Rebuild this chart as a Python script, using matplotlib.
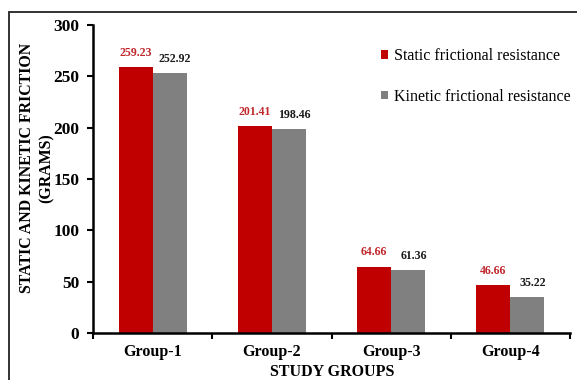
import matplotlib
matplotlib.use("Agg")
import matplotlib.pyplot as plt
import numpy as np
from matplotlib.patches import Rectangle

groups = ["Group-1", "Group-2", "Group-3", "Group-4"]
static_vals = [259.23, 201.41, 64.66, 46.66]
kinetic_vals = [252.92, 198.46, 61.36, 35.22]
series_names = ["Static frictional resistance", "Kinetic frictional resistance"]
y_ticks = [0, 50, 100, 150, 200, 250, 300]

plt.rcParams['font.family'] = ['Liberation Serif', 'DejaVu Serif']

W, H = 577, 380
fig = plt.figure(figsize=(W / 100, H / 100), dpi=100)
ax = fig.add_axes([93 / W, (H - 333) / H, (570 - 93) / W, (333 - 25) / H])

x = np.arange(len(groups))
bw = 0.285
red = '#C00000'
grey = '#808080'
ax.bar(x - bw / 2, static_vals, bw, color=red, label=series_names[0])
ax.bar(x + bw / 2, kinetic_vals, bw, color=grey, label=series_names[1])

for xi, v in zip(x, static_vals):
    ax.annotate(f"{v:.2f}", (xi - bw / 2, v), xytext=(0, 6), textcoords='offset points',
                ha='center', va='bottom', fontsize=8.6, fontweight='bold', color='#C0282D')
for xi, v in zip(x, kinetic_vals):
    ax.annotate(f"{v:.2f}", (xi + bw / 2, v), xytext=(4, 6), textcoords='offset points',
                ha='center', va='bottom', fontsize=8.6, fontweight='bold', color='#1a1a1a')

ax.set_xlim(-0.5, len(groups) - 0.5)
ax.set_ylim(0, 300)
ax.set_yticks(y_ticks)
ax.set_xticks(x)
ax.set_xticklabels(groups)
ax.set_xticks(np.arange(len(groups) + 1) - 0.5, minor=True)
ax.tick_params(axis='x', which='major', length=0, pad=8, labelsize=11.5)
ax.tick_params(axis='x', which='minor', length=4, width=1.5, direction='out')
ax.tick_params(axis='y', length=4, width=1.5, direction='out', labelsize=12.5, pad=6)
for lab in ax.get_xticklabels() + ax.get_yticklabels():
    lab.set_fontweight('bold')

for s in ['top', 'right']:
    ax.spines[s].set_visible(False)
for s in ['left', 'bottom']:
    ax.spines[s].set_linewidth(1.8)
    ax.spines[s].set_color('black')

fig.text(37 / W, 1 - 168 / H, "STATIC AND KINETIC FRICTION\n(GRAMS)", rotation=90,
         ha='center', va='center', fontsize=11.4, fontweight='bold', linespacing=1.3)
fig.text(332 / W, 1 - 372 / H, "STUDY GROUPS", ha='center', va='center',
         fontsize=11.5, fontweight='bold')

leg = ax.legend(loc='upper left', bbox_to_anchor=((381 - 93) / (570 - 93), 1 - (48 - 25) / 308),
                frameon=False, fontsize=11.5, handlelength=0.45, handleheight=0.45,
                handletextpad=0.35, labelspacing=1.55, borderaxespad=0, borderpad=0)

fig.patches.append(Rectangle((9 / W, -0.2), 1.2, 1.2 - 12 / H, transform=fig.transFigure,
                             fill=False, edgecolor='#222222', linewidth=1.3))

fig.savefig("out.png", dpi=100)
